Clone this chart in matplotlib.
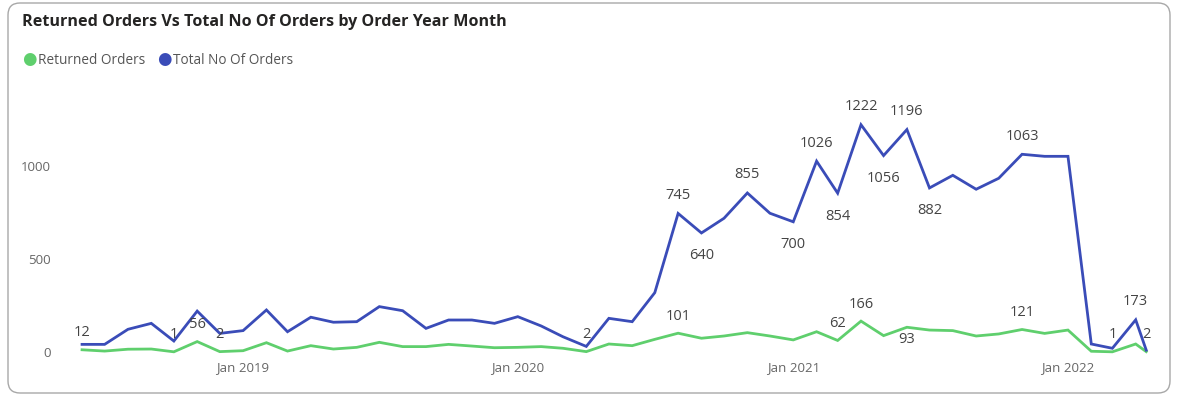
import matplotlib
matplotlib.use("Agg")
import matplotlib.pyplot as plt
import matplotlib.dates as mdates
from matplotlib.patches import FancyBboxPatch
import pandas as pd

plt.rcParams['font.family'] = ['Open Sans', 'DejaVu Sans']

# Order year-month (last point is a partial month)
order_dates = [
    "2018-06-01", "2018-07-01", "2018-08-01", "2018-09-01", "2018-10-01", "2018-11-01", "2018-12-01",
    "2019-01-01", "2019-02-01", "2019-03-01", "2019-04-01", "2019-05-01", "2019-06-01",
    "2019-07-01", "2019-08-01", "2019-09-01", "2019-10-01", "2019-11-01", "2019-12-01",
    "2020-01-01", "2020-02-01", "2020-03-01", "2020-04-01", "2020-05-01", "2020-06-01",
    "2020-07-01", "2020-08-01", "2020-09-01", "2020-10-01", "2020-11-01", "2020-12-01",
    "2021-01-01", "2021-02-01", "2021-03-01", "2021-04-01", "2021-05-01", "2021-06-01",
    "2021-07-01", "2021-08-01", "2021-09-01", "2021-10-01", "2021-11-01", "2021-12-01",
    "2022-01-01", "2022-02-01", "2022-03-01", "2022-04-01", "2022-04-15",
]

returned_orders = [
    12, 5, 15, 16, 1, 56, 2, 7, 50, 5, 34, 16, 25, 52, 29, 29, 41, 32, 23, 25, 29, 20, 2, 43,
    34, 68, 101, 74, 86, 104, 86, 65, 109, 62, 166, 88, 133, 118, 115, 86, 97, 121, 100, 118,
    4, 1, 43, 2,
]

total_orders = [
    41, 41, 122, 154, 59, 220, 100, 115, 226, 109, 187, 160, 163, 244, 222, 127, 172, 172,
    154, 190, 140, 82, 30, 181, 163, 319, 745, 640, 719, 855, 746, 700, 1026, 854, 1222,
    1056, 1196, 882, 950, 875, 934, 1063, 1052, 1052, 43, 20, 173, 10,
]

# data labels shown on the chart: (point index, series, text, above/below)
label_index = [0, 4, 5, 6, 22, 26, 33, 34, 36, 41, 45, 47,
               26, 27, 29, 31, 32, 33, 34, 35, 36, 37, 41, 46]
label_series = ["r"] * 12 + ["t"] * 12
label_text = ["12", "1", "56", "2", "2", "101", "62", "166", "93", "121", "1", "2",
              "745", "640", "855", "700", "1026", "854", "1222", "1056", "1196", "882", "1063", "173"]
label_above = [True, True, True, True, True, True, True, True, False, True, True, True,
               True, False, True, False, True, False, True, False, True, False, True, True]

dates = pd.to_datetime(order_dates)

W, H = 1178, 397
fig = plt.figure(figsize=(W / 100, H / 100), dpi=100)

# card border
card = FancyBboxPatch((0.08, 0.04), 11.62, 3.9, boxstyle="round,pad=0,rounding_size=0.12",
                      transform=fig.dpi_scale_trans, facecolor="none", edgecolor="#a8a8a8",
                      linewidth=1.0, zorder=-1)
fig.patches.append(card)

fig.text(22 / W, 1 - 22 / H, "Returned Orders Vs Total No Of Orders by Order Year Month",
         fontsize=11.6, fontweight="bold", color="#252423", va="center", ha="left")

green = "#5fcf6d"
blue = "#3a4cb8"

# legend
fig.text(22 / W, 1 - 60 / H, "\u25CF", fontsize=12, color=green, va="center", ha="left")
fig.text(38 / W, 1 - 60 / H, "Returned Orders", fontsize=9.8, color="#555555", va="center", ha="left")
fig.text(157 / W, 1 - 60 / H, "\u25CF", fontsize=12, color=blue, va="center", ha="left")
fig.text(173 / W, 1 - 60 / H, "Total No Of Orders", fontsize=9.8, color="#555555", va="center", ha="left")

ax = fig.add_axes([70 / W, (H - 361.3) / H, 1080 / W, 260.4 / H])
ax.set_facecolor("none")

ax.plot(dates, returned_orders, color=green, linewidth=2.0, solid_joinstyle="miter")
ax.plot(dates, total_orders, color=blue, linewidth=2.0, solid_joinstyle="miter")

for idx, s, txt, above in zip(label_index, label_series, label_text, label_above):
    yv = returned_orders[idx] if s == "r" else total_orders[idx]
    if s == "r":
        dy = 17 if above else -12
    else:
        dy = 18 if above else -23
    ax.annotate(txt, (dates[idx], yv), xytext=(0, dy), textcoords="offset pixels",
                ha="center", va="center", fontsize=10.5, color="#444444")

ax.set_ylim(-50, 1350)
ax.set_xlim(pd.Timestamp("2018-05-16"), pd.Timestamp("2022-04-20"))
ax.set_yticks([0, 500, 1000])
ax.xaxis.set_major_locator(mdates.YearLocator())
ax.xaxis.set_major_formatter(mdates.DateFormatter("%b %Y"))
ax.tick_params(axis="both", length=0, labelsize=9.5, labelcolor="#666666")
ax.tick_params(axis="y", pad=14)
ax.tick_params(axis="x", pad=0)
for sp in ax.spines.values():
    sp.set_visible(False)

fig.savefig("out.png", dpi=100)
